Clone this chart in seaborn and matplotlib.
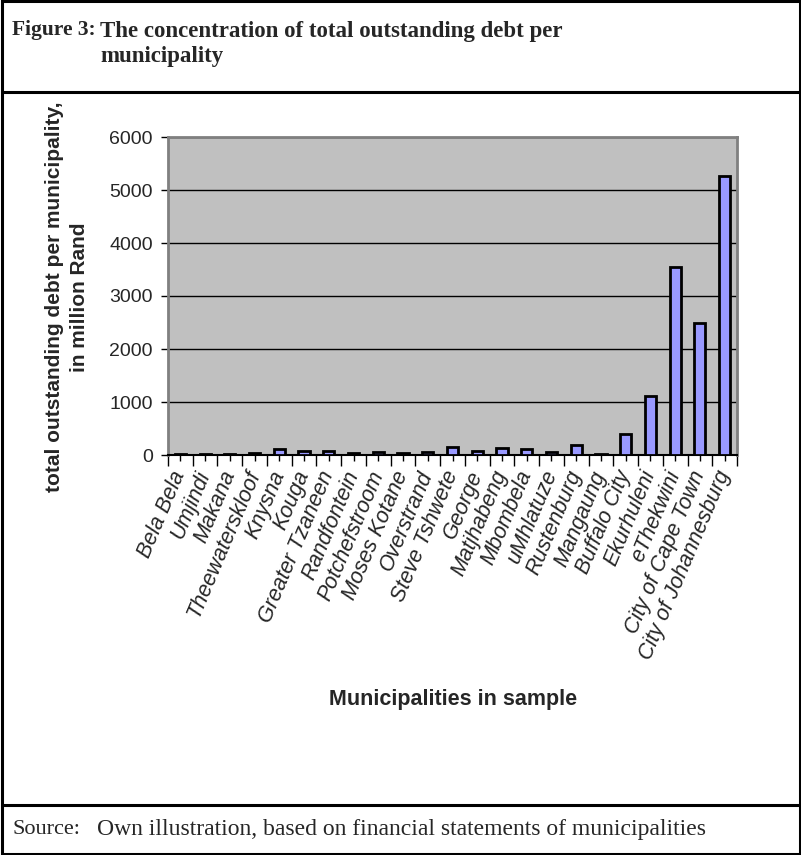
import matplotlib
matplotlib.use("Agg")
import matplotlib.pyplot as plt
import seaborn as sns
import numpy as np
import pandas as pd
from matplotlib.patches import Rectangle
from matplotlib.lines import Line2D
from matplotlib.ticker import FixedLocator

municipalities = ["Bela Bela", "Umjindi", "Makana", "Theewaterskloof", "Knysna", "Kouga",
                  "Greater Tzaneen", "Randfontein", "Potchefstroom", "Moses Kotane", "Overstrand",
                  "Steve Tshwete", "George", "Matjhabeng", "Mbombela", "uMhlatuze", "Rustenburg",
                  "Mangaung", "Buffalo City", "Ekurhuleni", "eThekwini", "City of Cape Town",
                  "City of Johannesburg"]
debt = [20, 20, 20, 30, 105, 70, 82, 30, 50, 45, 58, 145, 80, 138, 107, 63, 183,
        20, 402, 1113, 3555, 2490, 5255]
y_ticks = [0, 1000, 2000, 3000, 4000, 5000, 6000]

title_num = "Figure 3:"
title_text = "The concentration of total outstanding debt per\nmunicipality"
y_label = "total outstanding debt per municipality,\nin million Rand"
x_label = "Municipalities in sample"
source_lbl = "Source:"
source_text = "Own illustration, based on financial statements of municipalities"

sns.set_theme(style="white")
plt.rcParams['font.family'] = ['Liberation Sans', 'DejaVu Sans']

W, H = 801, 855
fig = plt.figure(figsize=(W / 100, H / 100), dpi=100)

def fx(px):
    return px / W

def fy(py):
    return 1 - py / H

# frame
fig.patches.append(Rectangle((fx(1.5), fy(853.5)), fx(798), 852 / H, transform=fig.transFigure,
                             fill=False, edgecolor='black', linewidth=2.2))
for yy in (92, 805):
    fig.lines.append(Line2D([fx(1.5), fx(799.5)], [fy(yy), fy(yy)], transform=fig.transFigure,
                            color='black', linewidth=2.2))

serif = ['Liberation Serif', 'DejaVu Serif']
fig.text(fx(12), fy(30), title_num, family=serif, fontweight='bold', fontsize=15.5, va='center', ha='left')
fig.text(fx(100), fy(44), title_text, family=serif, fontweight='bold', fontsize=16.5, va='center', ha='left',
         linespacing=1.28)
fig.text(fx(12), fy(829), source_lbl, family=serif, fontsize=16, va='center', ha='left')
fig.text(fx(97), fy(829), source_text, family=serif, fontsize=17, va='center', ha='left')

ax = fig.add_axes([fx(168), fy(455), (737 - 168) / W, (455 - 137) / H])
df = pd.DataFrame({"m": municipalities, "d": debt})
sns.barplot(data=df, x="m", y="d", color="#9999FF", saturation=1, edgecolor="black",
            linewidth=2, width=0.45, ax=ax, zorder=3)
ax.set_facecolor("#C0C0C0")
ax.set_ylim(0, 6000)
ax.set_xlim(-0.5, len(municipalities) - 0.5)
ax.set_yticks(y_ticks)
ax.set_yticklabels([str(v) for v in y_ticks], fontsize=14)
ax.yaxis.grid(True, color='black', linewidth=1, zorder=1)
ax.set_axisbelow(True)
ax.xaxis.grid(False)
for s in ('top', 'right', 'left'):
    ax.spines[s].set_color('#808080')
    ax.spines[s].set_linewidth(2)
ax.spines['bottom'].set_color('black')
ax.spines['bottom'].set_linewidth(1.5)
ax.tick_params(axis='y', direction='out', length=5, width=1, color='black', pad=6, left=True)
ax.set_xticks(range(len(municipalities)))
ax.set_xticklabels(municipalities, rotation=67, ha='right', va='center', rotation_mode='anchor',
                   fontsize=15.5, fontstyle='italic')
ax.xaxis.set_minor_locator(FixedLocator(np.arange(-0.5, len(municipalities), 1.0)))
ax.tick_params(axis='x', which='major', direction='out', length=4, width=1, color='black', pad=8, bottom=True)
ax.tick_params(axis='x', which='minor', direction='out', length=8, width=1, color='black', bottom=True)
ax.set_xlabel("")
ax.set_ylabel("")

fig.text(fx(453), fy(699), x_label, fontweight='bold', fontsize=15.5, ha='center', va='center')
fig.text(fx(67), fy(297), y_label, fontweight='bold', fontsize=15, ha='center', va='center',
         rotation=90, multialignment='center', linespacing=1.42)

fig.savefig("out.png", dpi=100)
